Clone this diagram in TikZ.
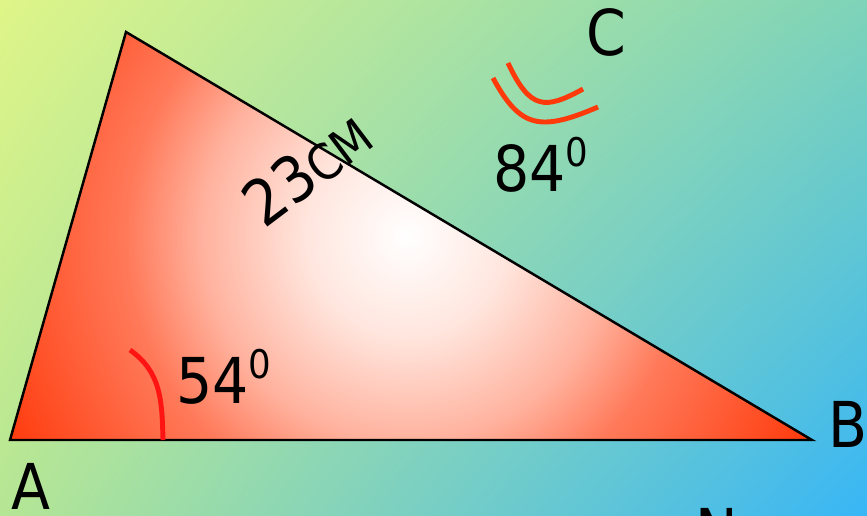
\documentclass[tikz,border=0pt]{standalone}
\usepackage{fontspec}
\usetikzlibrary{shadings}
\setmainfont[FakeStretch=0.9]{DejaVu Sans}
\definecolor{bgTL}{RGB}{223,245,136}
\definecolor{bgTR}{RGB}{126,211,184}
\definecolor{bgBL}{RGB}{181,230,148}
\definecolor{bgBR}{RGB}{56,182,246}
\definecolor{tA}{RGB}{255,230,222}
\definecolor{tB}{RGB}{255,178,158}
\definecolor{tC}{RGB}{255,122,90}
\definecolor{tD}{RGB}{255,58,12}
\definecolor{arcA}{RGB}{255,20,20}
\definecolor{arcC}{RGB}{255,58,10}
\pgfdeclareradialshading{trishade}{\pgfpointorigin}{color(0bp)=(white); color(56.7bp)=(tA); color(116.2bp)=(tB); color(158.7bp)=(tC); color(255bp)=(tD)}
\newcommand\supz[1]{\raisebox{14.5pt}{\fontsize{22.5}{22.5}\selectfont #1}}
\tikzset{
  lbl/.style={font=\fontsize{36}{36}\selectfont, inner sep=0pt, text=black},
  anglearc/.style={line width=2.8pt, line cap=butt},
  triedge/.style={draw=black, line width=1.4pt, line join=miter}
}
\begin{document}
\begin{tikzpicture}[x=0.02cm, y=-0.02cm]
\useasboundingbox (0,0) rectangle (867,516);
\clip (0,0) rectangle (867,516);
\shade[upper left=bgTL, upper right=bgTR, lower left=bgBL, lower right=bgBR] (0,0) rectangle (867,516);
\coordinate (A) at (10,440);
\coordinate (T) at (126,32);
\coordinate (B) at (812,440);
\begin{scope}
  \clip (A) -- (T) -- (B) -- cycle;
  \begin{scope}[shift={(407,236)}]
    \pgftext{\pgfuseshading{trishade}}
  \end{scope}
\end{scope}
\draw[triedge] (A) -- (T) -- (B) -- cycle;
% angle at A
\draw[anglearc, draw=arcA] (163,440) .. controls (162,400) and (161,372) .. (130,350);
% angle at C (double arc)
\draw[anglearc, draw=arcC] (493,78) .. controls (520,128) and (540,132) .. (598,107);
\draw[anglearc, draw=arcC] (508,63) .. controls (530,110) and (545,110) .. (583,89);
% labels
\node[lbl, anchor=base] (lA) at (31,510) {A};
\node[lbl, anchor=base] (lB) at (848,448) {B};
\node[lbl, anchor=base] (lC) at (606,56) {C};
\node[lbl, anchor=base] (lN) at (717,555) {N};
\node[lbl, anchor=base west] (l84) at (493,192) {84\supz{0}};
\node[lbl, anchor=base west] (l54) at (176,404) {54\supz{0}};
\node[lbl, anchor=base west, rotate=37] (l23) at (264,230) {23{\fontsize{28}{28}\selectfont CM}};
\end{tikzpicture}
\end{document}
